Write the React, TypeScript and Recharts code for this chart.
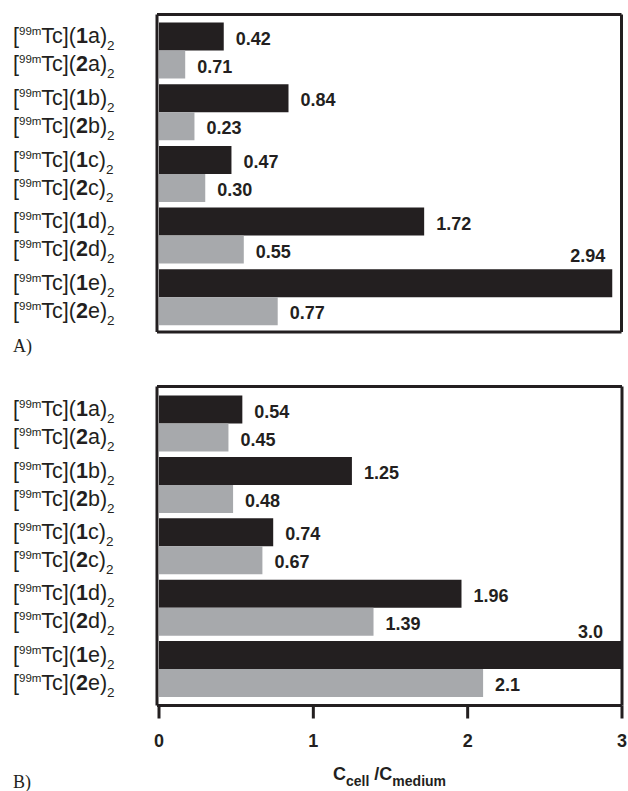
import { BarChart, Bar, XAxis, YAxis, LabelList } from 'recharts'

const compounds = ['a', 'b', 'c', 'd', 'e']

// panel A: bar lengths as drawn in the figure, and the numbers printed next to them
const a1Values = [0.42, 0.84, 0.47, 1.72, 2.94]
const a2Values = [0.17, 0.23, 0.3, 0.55, 0.77]
const a1Labels = ['0.42', '0.84', '0.47', '1.72', '2.94']
const a2Labels = ['0.71', '0.23', '0.30', '0.55', '0.77']

// panel B
const b1Values = [0.54, 1.25, 0.74, 1.96, 3.0]
const b2Values = [0.45, 0.48, 0.67, 1.39, 2.1]
const b1Labels = ['0.54', '1.25', '0.74', '1.96', '3.0']
const b2Labels = ['0.45', '0.48', '0.67', '1.39', '2.1']

const xTicks = [0, 1, 2, 3]

const INK = '#231f20'
const GRAY = '#a7a9ac'
const SANS = '"Liberation Sans", Arial, Helvetica, sans-serif'
const SERIF = '"Liberation Serif", "Times New Roman", serif'

const frameLine = { stroke: INK, strokeWidth: 3 }

const rowsA = compounds.map((c, i) => ({ name: c, s1: a1Values[i], s2: a2Values[i] }))
const rowsB = compounds.map((c, i) => ({ name: c, s1: b1Values[i], s2: b2Values[i] }))

function CompoundName({ y, ligand, letter }: { y: number; ligand: string; letter: string }) {
  return (
    <text x={13} y={y} fontFamily={SANS} fontSize={21.5} fill={INK}>
      <tspan>[</tspan>
      <tspan fontSize={11.5} dy={-8}>99m</tspan>
      <tspan dy={8}>Tc](</tspan>
      <tspan fontWeight="bold">{ligand}</tspan>
      <tspan>{letter})</tspan>
      <tspan fontSize={13.5} dy={7}>2</tspan>
    </text>
  )
}

function CompoundTick(props: any) {
  const { y, payload } = props
  return (
    <g>
      <CompoundName y={y - 7} ligand="1" letter={payload.value} />
      <CompoundName y={y + 21} ligand="2" letter={payload.value} />
    </g>
  )
}

function AxisTick(props: any) {
  const { x, y, payload } = props
  return (
    <text x={x} y={y + 26} textAnchor="middle" fontFamily={SANS} fontSize={18} fontWeight="bold" fill={INK}>
      {payload.value}
    </text>
  )
}

function AxisTitle(props: any) {
  const vb = props.viewBox || {}
  const cx = vb.x + vb.width / 2
  const base = vb.y + 74
  return (
    <text x={cx} y={base} textAnchor="middle" fontFamily={SANS} fontSize={18} fontWeight="bold" fill={INK}>
      <tspan>C</tspan>
      <tspan fontSize={14} dy={6}>cell</tspan>
      <tspan dy={-6}> /C</tspan>
      <tspan fontSize={14} dy={6}>medium</tspan>
    </text>
  )
}

function valueLabel(labels: string[], topIndex: number, topDx: number, topDy: number) {
  return (props: any) => {
    const { x, y, width, height, index } = props
    const end = Number(x) + Number(width)
    if (index === topIndex) {
      return (
        <text x={end - topDx} y={Number(y) - topDy} textAnchor="end" fontFamily={SANS} fontSize={18} fontWeight="bold" fill={INK}>
          {labels[index]}
        </text>
      )
    }
    return (
      <text x={end + 12} y={Number(y) + Number(height) / 2 + 8} fontFamily={SANS} fontSize={18} fontWeight="bold" fill={INK}>
        {labels[index]}
      </text>
    )
  }
}

interface PanelProps {
  rows: { name: string; s1: number; s2: number }[]
  labels1: string[]
  labels2: string[]
  height: number
  margin: { top: number; right: number; bottom: number; left: number }
  pad: { top: number; bottom: number }
  topDx: number
  topDy: number
  withAxis?: boolean
}

function Panel({ rows, labels1, labels2, height, margin, pad, topDx, topDy, withAxis }: PanelProps) {
  return (
    <BarChart width={628} height={height} data={rows} layout="vertical" barSize={28} barGap={0} margin={margin}>
      {withAxis ? (
        <XAxis
          type="number"
          domain={[0, 3]}
          ticks={xTicks}
          padding={{ left: 2, right: 0 }}
          height={60}
          tickSize={13}
          axisLine={frameLine}
          tickLine={frameLine}
          tick={AxisTick}
          label={{ content: AxisTitle }}
        />
      ) : (
        <XAxis type="number" domain={[0, 3]} padding={{ left: 2, right: 0 }} height={1} tick={false} tickLine={false} axisLine={frameLine} />
      )}
      <XAxis xAxisId="top" orientation="top" type="number" domain={[0, 3]} height={1} tick={false} tickLine={false} axisLine={frameLine} />
      <YAxis type="category" dataKey="name" width={157} interval={0} padding={pad} axisLine={frameLine} tickLine={false} tick={CompoundTick} />
      <YAxis yAxisId="right" orientation="right" type="category" dataKey="name" width={1} axisLine={frameLine} tickLine={false} tick={false} />
      <Bar dataKey="s1" fill={INK} isAnimationActive={false}>
        <LabelList dataKey="s1" content={valueLabel(labels1, 4, topDx, topDy)} />
      </Bar>
      <Bar dataKey="s2" fill={GRAY} isAnimationActive={false}>
        <LabelList dataKey="s2" content={valueLabel(labels2, -1, 0, 0)} />
      </Bar>
    </BarChart>
  )
}

export default function App() {
  return (
    <div style={{ position: 'absolute', left: 0, top: 0, width: 628, height: 791, background: '#fff' }}>
      <div style={{ position: 'absolute', left: 0, top: 0 }}>
        <Panel
          rows={rowsA}
          labels1={a1Labels}
          labels2={a2Labels}
          height={345}
          margin={{ top: 13.5, right: 5.5, bottom: 12, left: 0 }}
          pad={{ top: 5, bottom: 4 }}
          topDx={7}
          topDy={7}
        />
      </div>
      <div style={{ position: 'absolute', left: 0, top: 370 }}>
        <Panel
          rows={rowsB}
          labels1={b1Labels}
          labels2={b2Labels}
          height={421}
          margin={{ top: 15.5, right: 5, bottom: 25.5, left: 0 }}
          pad={{ top: 6, bottom: 6 }}
          topDx={19}
          topDy={3.5}
          withAxis
        />
      </div>
      <svg width={628} height={791} style={{ position: 'absolute', left: 0, top: 0, pointerEvents: 'none' }}>
        <text x={13} y={352} fontFamily={SERIF} fontSize={18} fill={INK}>A)</text>
        <text x={13} y={788} fontFamily={SERIF} fontSize={18} fill={INK}>B)</text>
      </svg>
    </div>
  )
}
